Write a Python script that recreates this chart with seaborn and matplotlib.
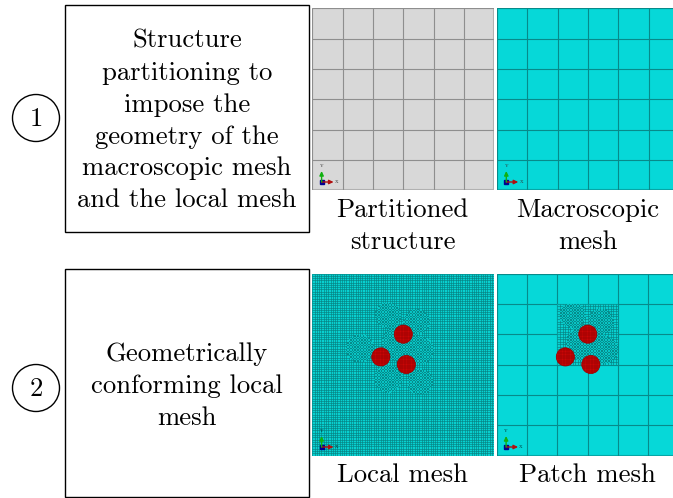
import numpy as np
import seaborn as sns
import matplotlib.pyplot as plt
from matplotlib.colors import ListedColormap
from matplotlib.patches import Circle, Rectangle

W, H = 673, 498

# text of the diagram
step_labels = ['1', '2']
step_text = [['Structure', 'partitioning to', 'impose the', 'geometry of the',
              'macroscopic mesh', 'and the local mesh'],
             ['Geometrically', 'conforming local', 'mesh']]
captions_top = [['Partitioned', 'structure'], ['Macroscopic', 'mesh']]
captions_bottom = ['Local mesh', 'Patch mesh']

# in macro cell units (panel is 6 x 6 cells)
macro_cells = 6
inclusion_x = [3.0, 2.26, 3.1]
inclusion_y = [2.0, 2.75, 3.0]
inclusion_r = 0.3
blob_x = [2.5, 3.44, 1.57, 3.55, 2.5, 3.55, 2.9]
blob_y = [1.37, 1.59, 2.47, 2.53, 3.46, 3.57, 2.3]
blob_r = [0.42, 0.42, 0.45, 0.45, 0.45, 0.42, 0.6]
local_cells = 80
patch_cells = 24
fine_cells = 130

plt.rcParams['font.family'] = ['cmr10', 'DejaVu Serif']
plt.rcParams['axes.formatter.use_mathtext'] = True

GRAY, CYAN, RED = '#d8d8d8', '#06d8d8', '#c90606'
FS = 19.2
fig = plt.figure(figsize=(W / 100, H / 100), dpi=100)


def px_axes(left, top, width, height):
    ax = fig.add_axes([left / W, 1 - (top + height) / H, width / W, height / H])
    ax.patch.set_alpha(0)
    return ax


def draw_mesh(ax, cells, fill, line, lw):
    sns.heatmap(np.zeros((cells, cells)), ax=ax, cmap=ListedColormap([fill]), cbar=False,
                xticklabels=False, yticklabels=False)
    ax.vlines(np.arange(cells + 1), 0, cells, color=line, lw=lw)
    ax.hlines(np.arange(cells + 1), 0, cells, color=line, lw=lw)
    ax.set_xlabel('')
    ax.set_ylabel('')


def draw_blobs(ax, cells, x0, y0, span):
    # finer mesh around the inclusions, only where the blobs are
    pos = (np.arange(cells) + 0.5) * span / cells
    gx, gy = np.meshgrid(x0 + pos, y0 + pos)
    keep = np.zeros((cells, cells), dtype=bool)
    for bx, by, br in zip(blob_x, blob_y, blob_r):
        keep |= (gx - bx) ** 2 + (gy - by) ** 2 < br ** 2
    idx = np.indices((cells, cells)).sum(axis=0) % 2
    sns.heatmap(idx, ax=ax, mask=~keep, cmap=ListedColormap(['#058c8c', '#08c4c4']), cbar=False,
                xticklabels=False, yticklabels=False)


def triad(ax, label_color):
    # small coordinate axes in the corner of each panel
    s = 182 / macro_cells
    ox, oy = 9.3 / s, 173.5 / s
    ax.annotate('', xy=(ox + 12 / s, oy), xytext=(ox, oy),
                arrowprops=dict(arrowstyle='-|>,head_width=0.12,head_length=0.25', color='#b01010',
                                lw=1, shrinkA=0, shrinkB=0))
    ax.annotate('', xy=(ox, oy - 11 / s), xytext=(ox, oy),
                arrowprops=dict(arrowstyle='-|>,head_width=0.12,head_length=0.25', color='#10b010',
                                lw=1, shrinkA=0, shrinkB=0))
    ax.plot([ox], [oy], 's', color='#000090', ms=2.3)
    ax.text(ox + 15 / s, oy, 'X', fontsize=3.5, color=label_color, ha='center', va='center')
    ax.text(ox, oy - 16 / s, 'Y', fontsize=3.5, color=label_color, ha='center', va='center')


def top_layer(left, top, size):
    ax = px_axes(left, top, size, size)
    ax.set_xlim(0, macro_cells)
    ax.set_ylim(macro_cells, 0)
    ax.axis('off')
    return ax


def draw_inclusions(ax):
    for cx, cy in zip(inclusion_x, inclusion_y):
        disc = Circle((cx, cy), inclusion_r, facecolor=RED, edgecolor='#a00000', lw=0.5)
        ax.add_patch(disc)
        ticks = np.arange(cx - inclusion_r, cx + inclusion_r, 0.085)
        v = ax.vlines(ticks, cy - inclusion_r, cy + inclusion_r, color='#8c0000', lw=0.35)
        h = ax.hlines(cy + ticks - cx, cx - inclusion_r, cx + inclusion_r, color='#8c0000', lw=0.35)
        v.set_clip_path(disc)
        h.set_clip_path(disc)


bg = fig.add_axes([0, 0, 1, 1])
bg.set_xlim(0, W)
bg.set_ylim(H, 0)
bg.axis('off')

for top, height, cy, num, lines, y0 in [(5, 227, 118, step_labels[0], step_text[0], 41),
                                        (269, 228, 388, step_labels[1], step_text[1], 354)]:
    bg.add_patch(Rectangle((65, top), 244, height, fill=False, edgecolor='black', lw=1))
    bg.add_patch(Circle((36, cy), 23.5, fill=False, edgecolor='black', lw=1))
    bg.text(36, cy + 1, num, fontsize=FS, ha='center', va='center')
    for i, line in enumerate(lines):
        bg.text(187, y0 + i * 31.9, line, fontsize=FS, ha='center', va='center')

for x, lines in zip([402.5, 588], captions_top):
    for i, line in enumerate(lines):
        bg.text(x, 210.5 + i * 32, line, fontsize=FS, ha='center', va='center')
for x, line in zip([402.5, 587], captions_bottom):
    bg.text(x, 475.5, line, fontsize=FS, ha='center', va='center')

SIZE = 182
# partitioned structure
ax = px_axes(312.3, 8.5, SIZE, SIZE)
draw_mesh(ax, macro_cells, GRAY, '#8e8e8e', 0.8)
ax.add_patch(Rectangle((0, 0), 6, 6, fill=False, edgecolor='#b4b4b4', lw=1.5))
triad(ax, '#333333')

# macroscopic mesh
ax = px_axes(497, 8.5, SIZE, SIZE)
draw_mesh(ax, macro_cells, CYAN, '#078a8a', 0.8)
ax.add_patch(Rectangle((0, 0), 6, 6, fill=False, edgecolor='#07a8a8', lw=1.5))
triad(ax, '#333333')

# local mesh
ax = px_axes(312.3, 273.5, SIZE, SIZE)
draw_mesh(ax, local_cells, '#08d0d0', '#067c7c', 0.42)
ax = px_axes(312.3, 273.5, SIZE, SIZE)
draw_blobs(ax, fine_cells, 0, 0, macro_cells)
top = top_layer(312.3, 273.5, SIZE)
draw_inclusions(top)
triad(top, '#033333')

# patch mesh
ax = px_axes(496.8, 273.5, SIZE, SIZE)
draw_mesh(ax, macro_cells, CYAN, '#078a8a', 0.8)
ax.add_patch(Rectangle((0, 0), 6, 6, fill=False, edgecolor='#07a8a8', lw=1.5))
ax = px_axes(496.8 + 2 * SIZE / 6, 273.5 + SIZE / 6, SIZE / 3, SIZE / 3)
draw_mesh(ax, patch_cells, '#08d0d0', '#067c7c', 0.42)
ax = px_axes(496.8 + 2 * SIZE / 6, 273.5 + SIZE / 6, SIZE / 3, SIZE / 3)
draw_blobs(ax, fine_cells // 3, 2, 1, 2)
top = top_layer(496.8, 273.5, SIZE)
draw_inclusions(top)
triad(top, '#033333')

fig.savefig('out.png', dpi=100)
